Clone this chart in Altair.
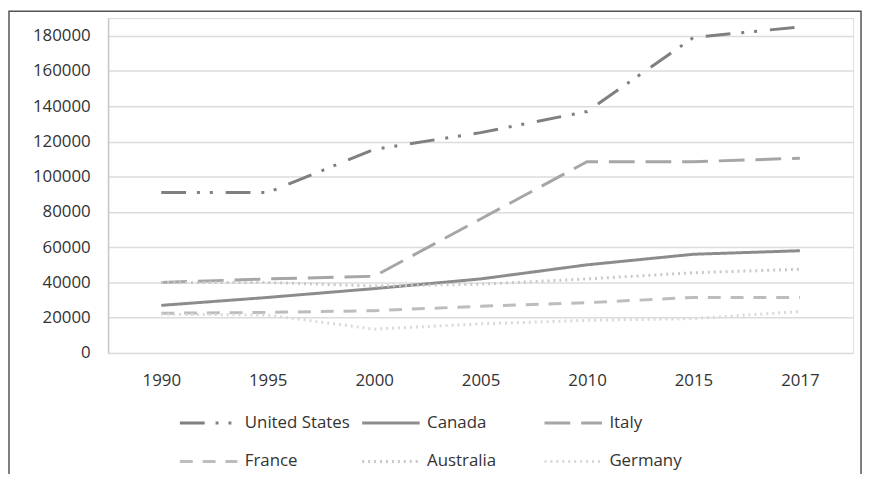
import altair as alt
import pandas as pd

years = ["1990", "1995", "2000", "2005", "2010", "2015", "2017"]
countries = ["United States", "Canada", "Italy", "France", "Australia", "Germany"]
united_states = [91000, 91000, 115500, 125000, 137000, 179000, 185000]
canada = [27000, 31500, 36500, 42000, 50000, 56000, 58000]
italy = [40000, 42000, 43500, 76000, 108500, 108500, 110500]
france = [22500, 23000, 24000, 26500, 28500, 31500, 31500]
australia = [40000, 40000, 38000, 39000, 42000, 45500, 47500]
germany = [22000, 21500, 13500, 16500, 18500, 19500, 23500]
y_ticks = [0, 20000, 40000, 60000, 80000, 100000, 120000, 140000, 160000, 180000]

series = [united_states, canada, italy, france, australia, germany]
rows = []
for name, vals in zip(countries, series):
    for yr, v in zip(years, vals):
        rows.append({"Country": name, "Year": yr, "Value": v})
df = pd.DataFrame(rows)

colors = ["#7f7f7f", "#8c8c8c", "#a6a6a6", "#bdbdbd", "#c8c8c8", "#d9d9d9"]
dashes = [[25, 11, 3, 10, 3, 13], [1, 0], [26, 11], [13, 10], [2, 4], [2, 4]]

FONT = "Open Sans"
FS = 17

lines = alt.Chart(df).mark_line(strokeWidth=3, interpolate="linear").encode(
    x=alt.X("Year:N", sort=years, title=None,
            scale=alt.Scale(type="point", padding=0.5),
            axis=alt.Axis(labelAngle=0, ticks=False, domain=False, grid=False,
                          labelPadding=20, labelFontSize=FS, labelColor="#333333",
                          labelFont=FONT)),
    y=alt.Y("Value:Q", title=None,
            scale=alt.Scale(domain=[0, 190000], nice=False),
            axis=alt.Axis(values=y_ticks, ticks=False, domain=True, domainColor="#c6c6c6",
                          domainWidth=1.5, grid=True, gridColor="#dcdcdc", gridWidth=1.5,
                          labelPadding=18, labelFontSize=FS, labelColor="#333333",
                          labelFont=FONT, format="d")),
    color=alt.Color("Country:N", title=None,
                    scale=alt.Scale(domain=countries, range=colors),
                    legend=alt.Legend(orient="none", legendX=71, legendY=378, columns=3,
                                      direction="horizontal",
                                      gridAlign="all", symbolType="stroke", symbolSize=3364,
                                      symbolStrokeWidth=3, labelFontSize=FS, labelFont=FONT,
                                      labelColor="#333333", labelOffset=6, columnPadding=5,
                                      rowPadding=-16, padding=0, symbolOpacity=1)),
    strokeDash=alt.StrokeDash("Country:N", title=None,
                              scale=alt.Scale(domain=countries, range=dashes)),
)

border_df = pd.DataFrame({"k": [1]})
border = alt.Chart(border_df).mark_rect(fill=None, stroke="#555555", strokeWidth=1.5).encode(
    x=alt.value(-100), x2=alt.value(760), y=alt.value(-7), y2=alt.value(480)
)

chart = alt.layer(border, lines).properties(
    width=752, height=338,
    autosize=alt.AutoSizeParams(type="none"),
    padding={"left": 101, "top": 8, "right": 11, "bottom": 120},
).configure_view(stroke=None).configure(background="white")

chart.save("out.html", embed_options={"renderer": "svg", "actions": False})
